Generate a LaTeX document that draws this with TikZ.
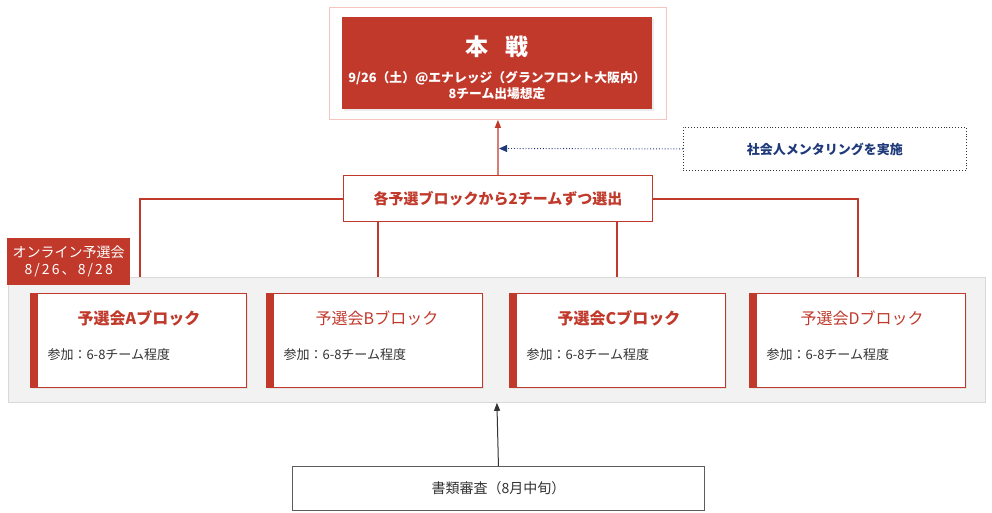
\documentclass[tikz,border=0pt]{standalone}
\usepackage{fontspec}
\setmainfont{Noto Sans CJK JP}
\usetikzlibrary{arrows.meta,shadows}
\definecolor{mred}{HTML}{C0392B}
\definecolor{mpink}{HTML}{F5C6C1}
\definecolor{mnavy}{HTML}{1F3A7A}
\definecolor{mgray}{HTML}{333333}
\definecolor{mbg}{HTML}{F2F2F2}
\definecolor{mbgline}{HTML}{D9D9D9}
\tikzset{
  redline/.style={draw=mred,line width=1.6pt},
  card/.style={draw=mred,line width=0.9pt,fill=white,minimum width=216pt,minimum height=94pt,anchor=north west,inner sep=0pt,
    drop shadow={opacity=0.12,shadow xshift=1.5pt,shadow yshift=-1.5pt}},
  cardbar/.style={fill=mred,draw=none,minimum width=8pt,minimum height=94pt,anchor=north west,inner sep=0pt},
  cardtitle/.style={text=mred,font=\fontsize{16}{19}\selectfont},
  cardtitleb/.style={text=mred,font=\bfseries\fontsize{16}{19}\selectfont},
  cardsub/.style={text=mgray,font=\fontsize{13}{15}\selectfont,anchor=west},
}
\begin{document}
\begin{tikzpicture}[x=1pt,y=-1pt]
\useasboundingbox (0,0) rectangle (992,513);
% top frame
\node[draw=mpink,fill=white,line width=0.8pt,minimum width=337pt,minimum height=112pt,anchor=north west,inner sep=0pt] (frame) at (329,7) {};
\node[fill=mred,minimum width=310pt,minimum height=92pt,anchor=north west,inner sep=0pt,
  drop shadow={opacity=0.15,shadow xshift=1.5pt,shadow yshift=-1.5pt}] (main) at (342,17) {};
\node[text=white,font=\bfseries\fontsize{23}{27}\selectfont] (maintitle) at (497,47) {本\hspace{0.7em}戦};
\node[text=white,font=\bfseries\fontsize{12.8}{16}\selectfont,align=center] (mainsub) at (497,86) {9/26（土）@エナレッジ（グランフロント大阪内）\\8チーム出場想定};
% mentoring
\node[draw=mgray,dotted,line width=0.9pt,minimum width=283pt,minimum height=43pt,anchor=north west,inner sep=0pt] (mentor) at (683,127) {};
\node[text=mnavy,font=\bfseries\fontsize{13}{15}\selectfont] (mentortext) at (mentor.center) {社会人メンタリングを実施};
\coordinate (mtip) at (499,148.5);
\draw[mnavy,dotted,line width=0.9pt,-{Triangle[length=8pt,width=7pt]}] (mentor.west) -- (mtip);
% selection box
\node[draw=mred,line width=1pt,fill=white,minimum width=309pt,minimum height=46pt,anchor=north west,inner sep=0pt] (sel) at (343,175) {};
\node[text=mred,font=\bfseries\fontsize{15}{18}\selectfont] (seltext) at (sel.center) {各予選ブロックから2チームずつ選出};
\draw[mred,line width=1.3pt,-{Triangle[length=8pt,width=6pt]}] (sel.north) -- (frame.south);
% background container
\node[draw=mbgline,fill=mbg,line width=0.8pt,minimum width=977pt,minimum height=125pt,anchor=north west,inner sep=0pt] (bg) at (8,277) {};
% cards
\node[card] (A) at (30,293) {};
\node[card] (B) at (266,293) {};
\node[card] (C) at (509,293) {};
\node[card] (D) at (749,293) {};
\node[cardbar] (Abar) at (30,293) {};
\node[cardbar] (Bbar) at (266,293) {};
\node[cardbar] (Cbar) at (509,293) {};
\node[cardbar] (Dbar) at (749,293) {};
\node[cardtitleb] (At) at (139,318) {予選会Aブロック};
\node[cardtitle] (Bt) at (377,318) {予選会Bブロック};
\node[cardtitleb] (Ct) at (619,318) {予選会Cブロック};
\node[cardtitle] (Dt) at (862,318) {予選会Dブロック};
\node[cardsub] (As) at (44,355) {参加：6-8チーム程度};
\node[cardsub] (Bs) at (280,355) {参加：6-8チーム程度};
\node[cardsub] (Cs) at (523,355) {参加：6-8チーム程度};
\node[cardsub] (Ds) at (763,355) {参加：6-8チーム程度};
% connectors from selection
\coordinate (la) at (140,277);
\coordinate (lb) at (378,277);
\coordinate (lc) at (617,277);
\coordinate (ld) at (858,277);
\draw[redline] (sel.west |- 0,199) -| (la);
\draw[redline] (sel.east |- 0,199) -| (ld);
\draw[redline] (sel.south -| lb) -- (lb);
\draw[redline] (sel.south -| lc) -- (lc);
% online label
\node[fill=mred,text=white,font=\fontsize{14}{17}\selectfont,align=center,minimum width=123pt,minimum height=47pt,anchor=north west,inner sep=0pt] (online) at (7,238) {オンライン予選会\\{\addfontfeatures{LetterSpace=15}8/26、8/28}};
% document review
\node[draw=mgray!80,line width=0.9pt,fill=white,minimum width=412pt,minimum height=44pt,anchor=north west,inner sep=0pt] (doc) at (292,466) {};
\node[text=mgray,font=\fontsize{14}{17}\selectfont] (doctext) at (doc.center) {書類審査（8月中旬）};
\draw[mgray,line width=1pt,-{Triangle[length=8pt,width=6pt]}] (doc.north) -- (bg.south);
\end{tikzpicture}
\end{document}
